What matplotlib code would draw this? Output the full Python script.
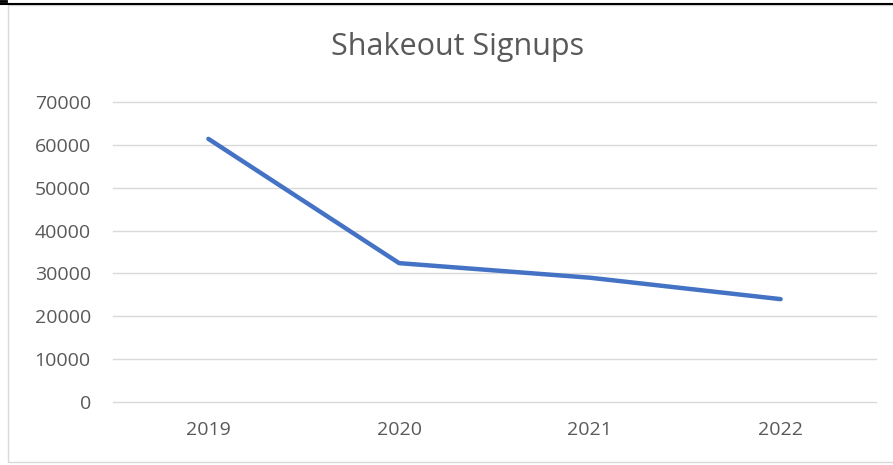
import matplotlib
matplotlib.use("Agg")
import matplotlib.pyplot as plt
from matplotlib.lines import Line2D
from matplotlib.patches import Rectangle

# Yearly signup totals
years = ["2019", "2020", "2021", "2022"]
signups = [61400, 32400, 29000, 24000]
y_ticks = [0, 10000, 20000, 30000, 40000, 50000, 60000, 70000]

W, H = 893, 465
fig = plt.figure(figsize=(W / 100, H / 100), dpi=100)
plt.rcParams["font.family"] = ["Open Sans", "DejaVu Sans"]

# plot area in pixel coordinates
left, right, top, bottom = 113, 876, 102, 402
ax = fig.add_axes([left / W, 1 - bottom / H, (right - left) / W, (bottom - top) / H])

x = range(len(years))
ax.plot(x, signups, color="#4472C4", linewidth=3.2, solid_capstyle="round",
        solid_joinstyle="round", zorder=3)

ax.set_xlim(-0.5, len(years) - 0.5)
ax.set_ylim(0, 70000)
ax.set_yticks(y_ticks)
ax.set_yticklabels([str(v) for v in y_ticks])
ax.set_xticks(list(x))
ax.set_xticklabels(years)

ax.grid(axis="y", color="#D9D9D9", linewidth=1.0, zorder=0)
for gl in ax.get_ygridlines():
    gl.set_clip_on(False)
ax.set_axisbelow(True)
for s in ax.spines.values():
    s.set_visible(False)
ax.tick_params(axis="both", length=0, labelsize=14, labelcolor="#595959")
ax.tick_params(axis="y", pad=16)
ax.tick_params(axis="x", pad=14)

# chart title
fig.text(458 / W, 1 - 47 / H, "Shakeout Signups", ha="center", va="center",
         fontsize=22, color="#595959")

# chart frame and the dark rule along the top
fig.add_artist(Rectangle((8 / W, 1 - 462 / H), (W + 10) / W, 457 / H,
                         transform=fig.transFigure, fill=False,
                         edgecolor="#D9D9D9", linewidth=1.0))
fig.add_artist(Line2D([0, 1], [1 - 4 / H, 1 - 4 / H], transform=fig.transFigure,
                      color="black", linewidth=1.5))
fig.add_artist(Line2D([0, 6 / W], [1 - 1.5 / H, 1 - 1.5 / H], transform=fig.transFigure,
                      color="black", linewidth=2))

fig.savefig("out.png", dpi=100, facecolor="white")
